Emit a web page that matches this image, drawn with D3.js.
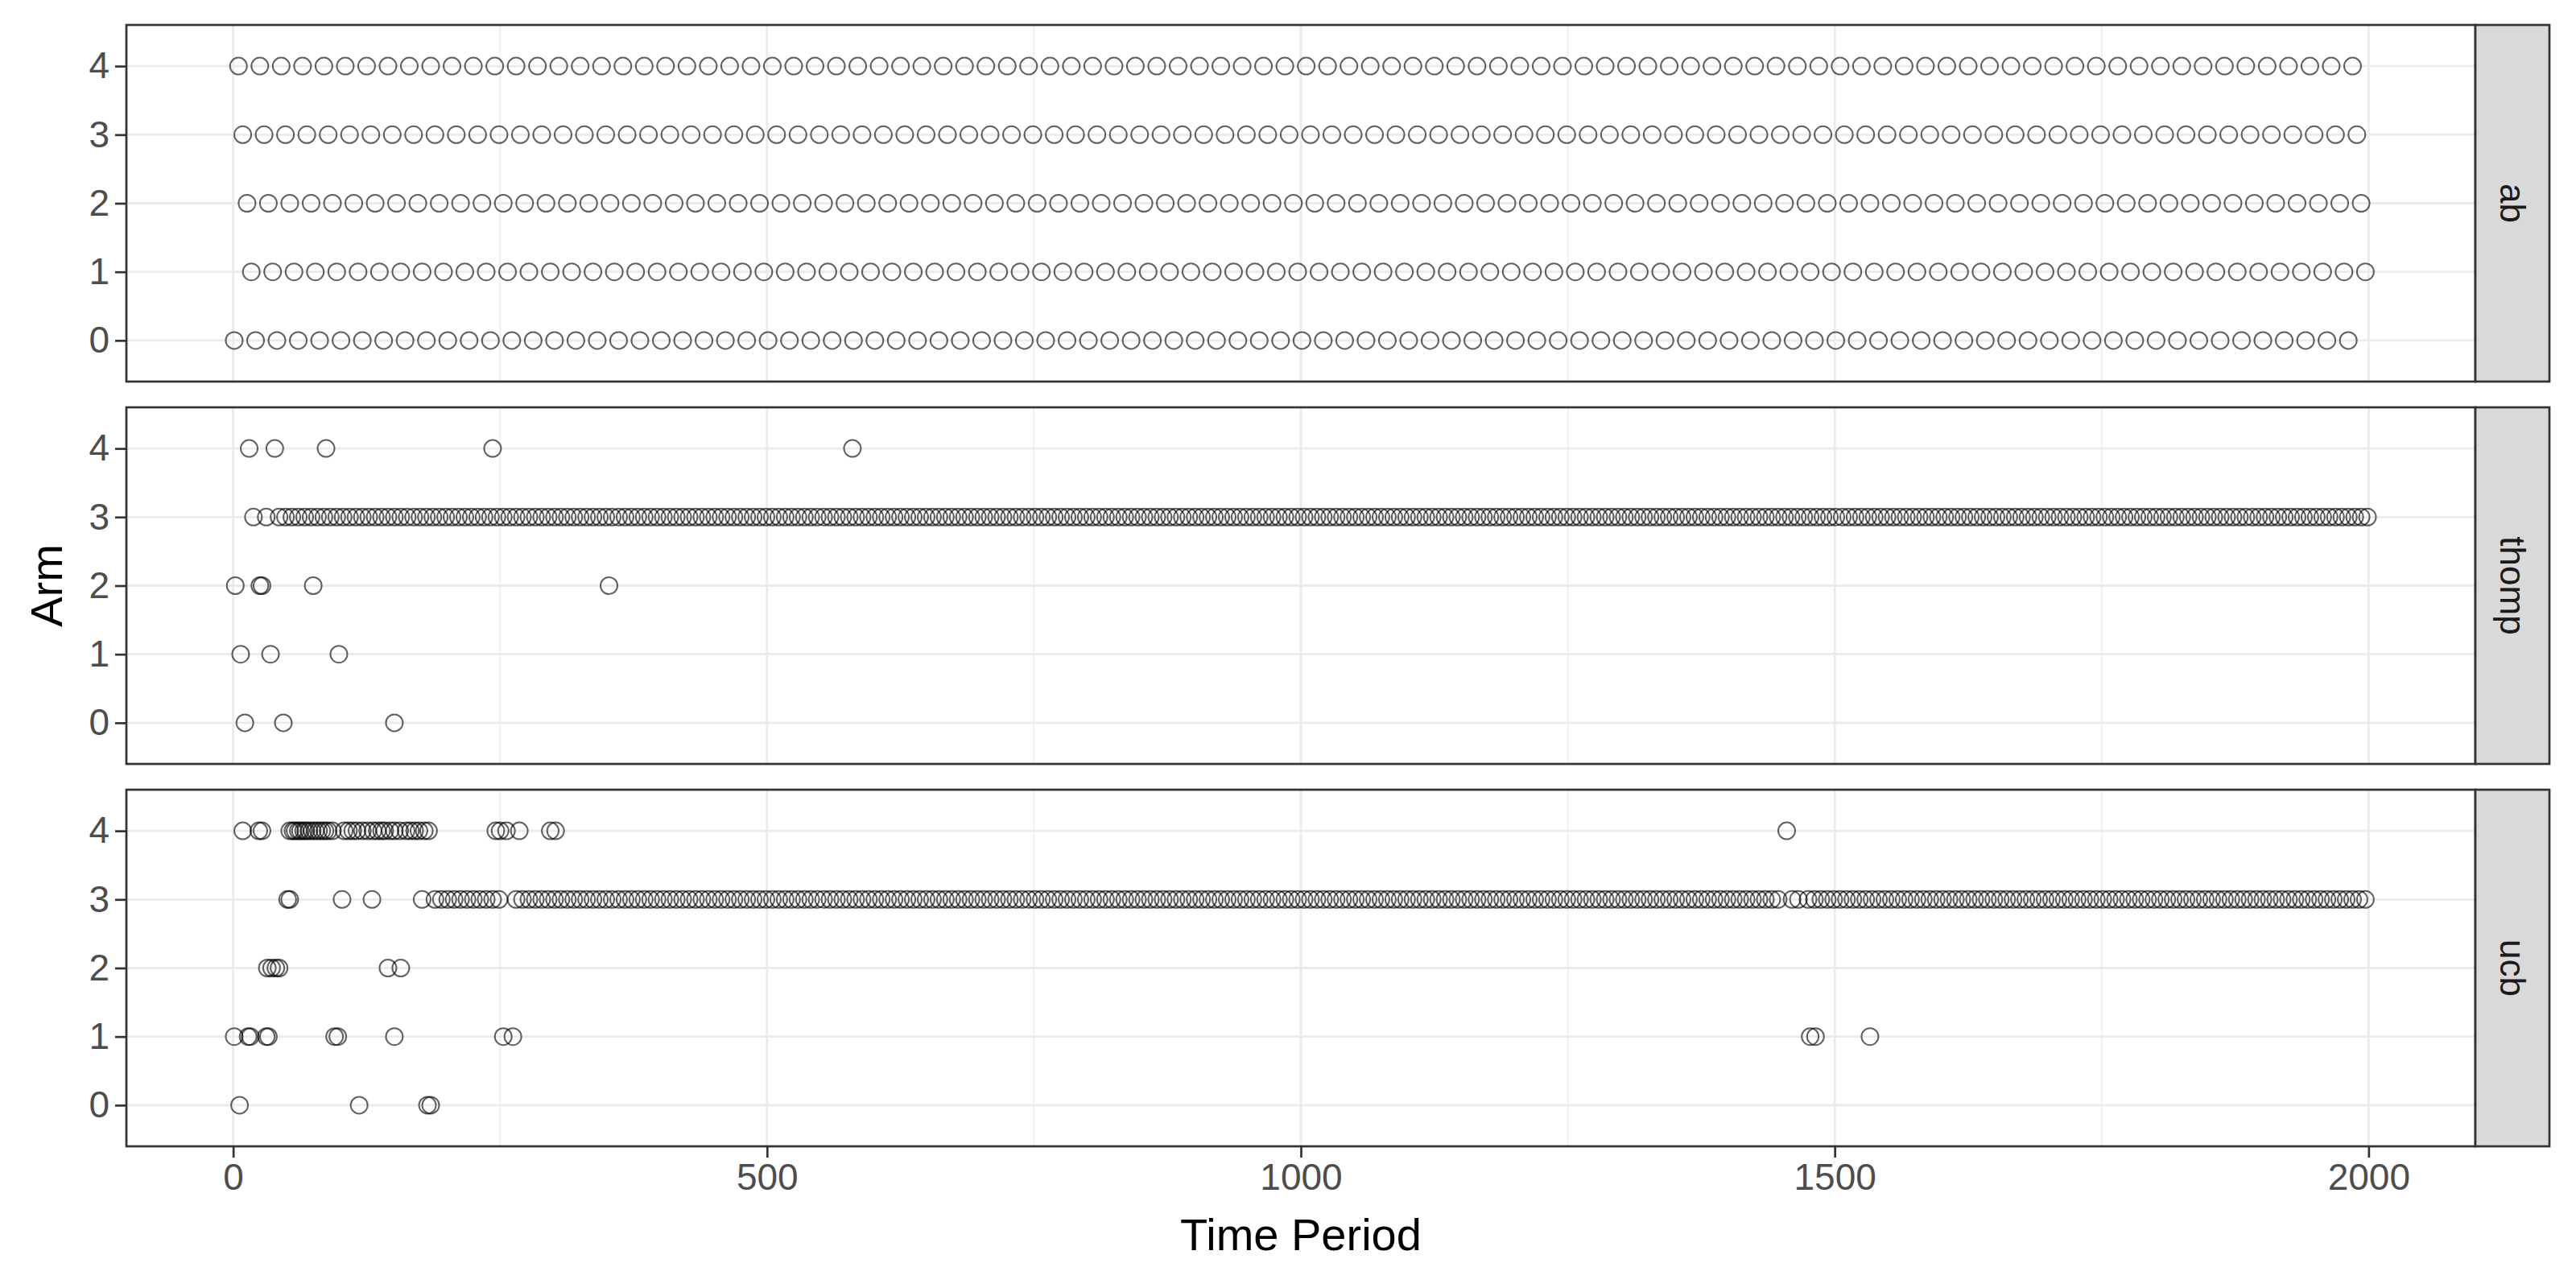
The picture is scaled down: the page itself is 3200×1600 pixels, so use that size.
<!DOCTYPE html>
<html>
<head>
<meta charset="utf-8">
<script src="https://cdn.jsdelivr.net/npm/d3@7"></script>
<style>
  body { margin: 0; background: #fff; }
  text { font-family: "Liberation Sans", Arial, sans-serif; }
</style>
</head>
<body>
<svg id="chart" width="3200" height="1600"></svg>
<script>
// panels (facets)
var panels = ["ab", "thomp", "ucb"];
var armTicks = [0, 1, 2, 3, 4];
var timeTicks = [0, 500, 1000, 1500, 2000];
var timeMinor = [250, 750, 1250, 1750];

// ab: round robin, each arm every 20 periods (start, step, end)
var abStart = [1, 17, 13, 9, 5];
var abStep = 20;
var abEnd = [1981, 1997, 1993, 1989, 1985];

// thomp: isolated pulls per arm, plus a dense run on arm 3
var thompArm0 = [11, 47, 151];
var thompArm1 = [7, 35, 99];
var thompArm2 = [2, 25, 27, 75, 352];
var thompArm3 = [19, 31, 43];
var thompArm4 = [15, 39, 87, 243, 580];
var thompRun3 = [[49, 2000]];

// ucb
var ucbArm0 = [6, 118, 182, 185];
var ucbArm1 = [1, 14, 16, 31, 33, 95, 98, 151, 253, 262, 1477, 1482, 1533];
var ucbArm2 = [32, 36, 40, 43, 145, 157];
var ucbArm3 = [51, 53, 102, 130, 177];
var ucbArm4 = [9, 24, 27, 53, 56, 58, 61, 63, 66, 68, 71, 74, 77, 80, 83, 86, 89, 93, 104, 108, 112, 116,
  121, 126, 131, 135, 139, 142, 147, 151, 156, 162, 166, 170, 174, 179, 183, 246, 250, 256, 268, 297, 302, 1455];
var ucbRun3 = [[189, 250], [265, 1452], [1460, 1468], [1475, 2000]];
var runStep = 6;

function runPoints(runs, arm) {
  var out = [];
  runs.forEach(function(r) {
    for (var t = r[0]; t <= r[1]; t += runStep) out.push({t: t, arm: arm});
  });
  return out;
}
function listPoints(lists) {
  var out = [];
  lists.forEach(function(l, arm) { l.forEach(function(t) { out.push({t: t, arm: arm}); }); });
  return out;
}

var data = {};
data.ab = [];
for (var a = 0; a < 5; a++) {
  for (var t = abStart[a]; t <= abEnd[a]; t += abStep) data.ab.push({t: t, arm: a});
}
data.thomp = listPoints([thompArm0, thompArm1, thompArm2, thompArm3, thompArm4]).concat(runPoints(thompRun3, 3));
data.ucb = listPoints([ucbArm0, ucbArm1, ucbArm2, ucbArm3, ucbArm4]).concat(runPoints(ucbRun3, 3));

var svg = d3.select("#chart");
var left = 157, right = 3075, stripW = 92;
var tops = [31, 506, 981], ph = 443;

var x = d3.scaleLinear().domain([-100, 2100]).range([left, right]);

panels.forEach(function(name, i) {
  var g = svg.append("g").attr("transform", "translate(0," + tops[i] + ")");
  var y = d3.scaleLinear().domain([-0.6, 4.6]).range([ph, 0]);

  // grid
  g.selectAll(".minor").data(timeMinor).enter().append("line")
    .attr("x1", d => x(d)).attr("x2", d => x(d)).attr("y1", 0).attr("y2", ph)
    .attr("stroke", "#ebebeb").attr("stroke-width", 1.4);
  g.selectAll(".vmaj").data(timeTicks).enter().append("line")
    .attr("x1", d => x(d)).attr("x2", d => x(d)).attr("y1", 0).attr("y2", ph)
    .attr("stroke", "#ebebeb").attr("stroke-width", 2.8);
  g.selectAll(".hmaj").data(armTicks).enter().append("line")
    .attr("x1", left).attr("x2", right).attr("y1", d => y(d)).attr("y2", d => y(d))
    .attr("stroke", "#ebebeb").attr("stroke-width", 2.8);

  // points
  g.selectAll("circle").data(data[name]).enter().append("circle")
    .attr("cx", d => x(d.t)).attr("cy", d => y(d.arm)).attr("r", 10.5)
    .attr("fill", "none").attr("stroke", "#000").attr("stroke-opacity", 0.62).attr("stroke-width", 2);

  // border
  g.append("rect").attr("x", left).attr("y", 0).attr("width", right - left).attr("height", ph)
    .attr("fill", "none").attr("stroke", "#333").attr("stroke-width", 2.7);

  // y axis
  var ya = g.append("g").attr("transform", "translate(" + left + ",0)")
    .call(d3.axisLeft(y).tickValues(armTicks).tickSize(14).tickPadding(7).tickFormat(d3.format("d")));
  ya.select(".domain").remove();
  ya.selectAll("line").attr("stroke", "#333").attr("stroke-width", 2.7);
  ya.selectAll("text").attr("font-size", 46).attr("fill", "#4d4d4d");

  // strip
  g.append("rect").attr("x", right).attr("y", 0).attr("width", stripW).attr("height", ph)
    .attr("fill", "#d9d9d9").attr("stroke", "#333").attr("stroke-width", 2.7);
  g.append("text").attr("transform", "translate(" + (right + stripW / 2) + "," + (ph / 2) + ") rotate(90)")
    .attr("text-anchor", "middle").attr("dominant-baseline", "central")
    .attr("font-size", 44).attr("fill", "#1a1a1a").text(name);

  if (i === 2) {
    var xa = g.append("g").attr("transform", "translate(0," + ph + ")")
      .call(d3.axisBottom(x).tickValues(timeTicks).tickSize(14).tickPadding(7).tickFormat(d3.format("d")));
    xa.select(".domain").remove();
    xa.selectAll("line").attr("stroke", "#333").attr("stroke-width", 2.7);
    xa.selectAll("text").attr("font-size", 46).attr("fill", "#4d4d4d");
  }
});

svg.append("text").attr("x", (left + right) / 2).attr("y", 1553).attr("text-anchor", "middle")
  .attr("font-size", 56).attr("fill", "#000").text("Time Period");
svg.append("text").attr("transform", "translate(77," + (tops[1] + ph / 2) + ") rotate(-90)")
  .attr("text-anchor", "middle").attr("font-size", 56).attr("fill", "#000").text("Arm");
</script>
</body>
</html>
